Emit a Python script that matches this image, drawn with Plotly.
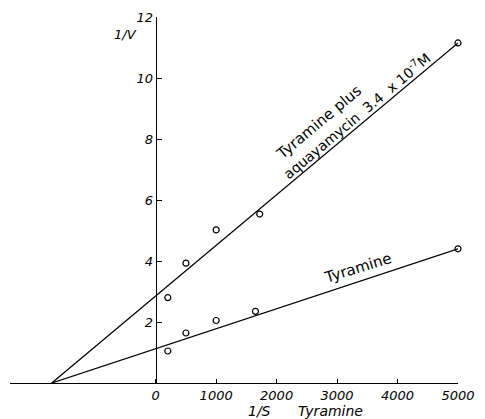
import plotly.graph_objects as go

# Data (Lineweaver-Burk plot)
inv_s_tyr = [200, 500, 1000, 1650, 5000]
inv_v_tyr = [1.05, 1.64, 2.05, 2.35, 4.4]

inv_s_aqua = [200, 500, 1000, 1720, 5000]
inv_v_aqua = [2.8, 3.93, 5.02, 5.54, 11.15]

# fitted lines: common x-intercept and value at 1/S = 5000
line_x = [-1720, 5000]
line_tyr = [0, 4.4]
line_aqua = [0, 11.15]

x_ticks = [0, 1000, 2000, 3000, 4000, 5000]
y_ticks = [2, 4, 6, 8, 10, 12]

x_min, x_max = -2410, 5000
FONT = "DejaVu Sans"

fig = go.Figure()
fig.add_trace(go.Scatter(x=line_x, y=line_aqua, mode="lines",
                         line=dict(color="black", width=1.3), showlegend=False))
fig.add_trace(go.Scatter(x=line_x, y=line_tyr, mode="lines",
                         line=dict(color="black", width=1.3), showlegend=False))
fig.add_trace(go.Scatter(x=inv_s_aqua, y=inv_v_aqua, mode="markers",
                         marker=dict(symbol="circle-open", size=6, color="black",
                                     line=dict(width=1.2)),
                         cliponaxis=False, showlegend=False))
fig.add_trace(go.Scatter(x=inv_s_tyr, y=inv_v_tyr, mode="markers",
                         marker=dict(symbol="circle-open", size=6, color="black",
                                     line=dict(width=1.2)),
                         cliponaxis=False, showlegend=False))

ypos = (0 - x_min) / (x_max - x_min)

fig.update_layout(
    width=485, height=419,
    margin=dict(l=10, r=23, t=17, b=36),
    paper_bgcolor="white", plot_bgcolor="white",
    font=dict(family=FONT, color="black", size=13),
    xaxis=dict(range=[x_min, x_max], showgrid=False, zeroline=False,
               showline=True, linecolor="black", linewidth=1.3,
               ticks="inside", ticklen=4, tickcolor="black",
               tickvals=x_ticks, ticktext=[str(v) for v in x_ticks],
               tickfont=dict(family=FONT, size=13, style="italic")),
    yaxis=dict(range=[0, 12], showgrid=False, zeroline=False,
               anchor="free", position=ypos,
               showline=True, linecolor="black", linewidth=1.3,
               ticks="inside", ticklen=5, tickcolor="black",
               tickvals=y_ticks, ticktext=[str(v) for v in y_ticks],
               tickfont=dict(family=FONT, size=13, style="italic")),
    annotations=[
        dict(text="1/V", xref="paper", yref="paper", x=(127 - 10) / 452, y=(419 - 36 - 34) / 366,
             xanchor="center", yanchor="middle",
             showarrow=False, font=dict(family=FONT, size=13, style="italic")),
        dict(text="1/S", xref="paper", yref="paper",
             x=(262 - 10) / 452, y=(419 - 36 - 410.5) / 366,
             xanchor="center", yanchor="middle", borderpad=0,
             showarrow=False, font=dict(family=FONT, size=14, style="italic")),
        dict(text="Tyramine", xref="paper", yref="paper",
             x=(333 - 10) / 452, y=(419 - 36 - 410.5) / 366,
             xanchor="center", yanchor="middle", borderpad=0,
             showarrow=False, font=dict(family=FONT, size=14, style="italic")),
        dict(text="Tyramine plus", x=2705, y=8.56, xref="x", yref="y",
             xanchor="center", yanchor="middle",
             showarrow=False, textangle=-40, font=dict(family=FONT, size=15)),
        dict(text="aquayamycin&nbsp;&nbsp;3.4&nbsp;&nbsp;x&nbsp;10<sup>-7</sup>M", x=3328, y=8.79,
             xref="x", yref="y", xanchor="center", yanchor="middle",
             showarrow=False, textangle=-40, font=dict(family=FONT, size=14)),
        dict(text="Tyramine", x=3344, y=3.77, xref="x", yref="y",
             xanchor="center", yanchor="middle",
             showarrow=False, textangle=-17, font=dict(family=FONT, size=15)),
    ],
)

# remove the browser's default page margin so the figure sits at the window's corner
fig.write_html("out.html", config={"displayModeBar": False},
               post_script="document.body.style.margin='0px';")
